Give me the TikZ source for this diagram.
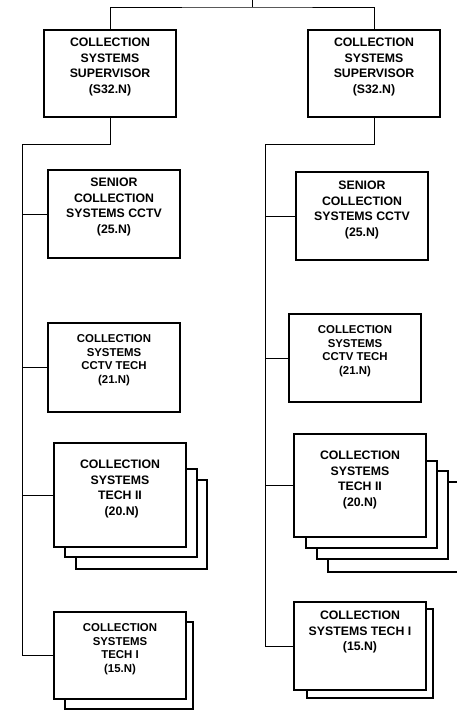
\documentclass[tikz,border=0pt]{standalone}
\usepackage{fontspec}
\setmainfont{Liberation Sans}
\tikzset{
 box/.style={draw, line width=1.3pt, fill=white, rectangle, inner sep=0pt},
 conn/.style={line width=0.9pt},
 bigtxt/.style={font=\bfseries\fontsize{12.3}{15.5}\selectfont, align=center, anchor=north, inner sep=0pt},
 smalltxt/.style={font=\bfseries\fontsize{11.4}{13.7}\selectfont, align=center, anchor=north, inner sep=0pt},
}
\newcommand\obox[5]{%
 \node[box, minimum width={#4-#2}, minimum height={#5-#3}] (#1) at ({(#2+#4)/2},{(#3+#5)/2}) {};}
\newcommand\shbox[4]{\draw[box] (#1,#2) rectangle (#3,#4);}
\begin{document}
\begin{tikzpicture}[x=1pt,y=-1pt]
\useasboundingbox (0,0) rectangle (457,711);
\clip (0,0) rectangle (457,711);
% supervisors
\obox{supL}{44}{30}{176}{117}
\obox{supR}{308}{30}{440}{117}
\node[bigtxt] (tsupL) at ([yshift=-8.6pt]supL.north) {COLLECTION\\SYSTEMS\\SUPERVISOR\\(S32.N)};
\node[bigtxt] (tsupR) at ([yshift=-8.6pt]supR.north) {COLLECTION\\SYSTEMS\\SUPERVISOR\\(S32.N)};
% left column
\obox{senL}{48}{170}{180}{258}
\node[bigtxt] (tsenL) at ([yshift=-8.6pt]senL.north) {SENIOR\\COLLECTION\\SYSTEMS CCTV\\(25.N)};
\obox{ccL}{48}{323}{180}{412}
\node[smalltxt] (tccL) at ([yshift=-12pt]ccL.north) {COLLECTION\\SYSTEMS\\CCTV TECH\\(21.N)};
\shbox{76}{480}{207}{569}
\shbox{65}{469}{197}{557}
\obox{t2L}{54}{443}{186}{547}
\node[bigtxt] (tt2L) at ([yshift=-17.6pt]t2L.north) {COLLECTION\\SYSTEMS\\TECH II\\\ (20.N)};
\shbox{65}{622}{193}{709}
\obox{t1L}{54}{612}{186}{699}
\node[smalltxt] (tt1L) at ([yshift=-12pt]t1L.north) {COLLECTION\\SYSTEMS\\TECH I\\(15.N)};
% right column
\obox{senR}{296}{172}{428}{260}
\node[bigtxt] (tsenR) at ([yshift=-9.6pt]senR.north) {SENIOR\\COLLECTION\\SYSTEMS CCTV\\(25.N)};
\obox{ccR}{289}{314}{421}{402}
\node[smalltxt] (tccR) at ([yshift=-12pt]ccR.north) {COLLECTION\\SYSTEMS\\CCTV TECH\\(21.N)};
\shbox{328}{482}{475}{572}
\shbox{317}{471}{448}{559}
\shbox{306}{461}{437}{548}
\obox{t2R}{294}{434}{426}{537}
\node[bigtxt] (tt2R) at ([yshift=-17.6pt]t2R.north) {COLLECTION\\SYSTEMS\\TECH II\\(20.N)};
\shbox{307}{609}{433}{698}
\obox{t1R}{294}{602}{426}{690}
\node[bigtxt] (tt1R) at ([yshift=-9.6pt]t1R.north) {COLLECTION\\SYSTEMS TECH I\\(15.N)};
% connectors
\coordinate (top) at (252,0);
\coordinate (bus) at (252,7);
\coordinate (jL) at (22,144);
\coordinate (jR) at (265,144);
\draw[conn] (top) -- (bus);
\draw[conn] (supL.north) |- (bus) -| (supR.north);
\draw[conn] (supL.south) |- (jL) |- (t1L.west);
\draw[conn] (supR.south) |- (jR) |- (t1R.west);
\foreach \n in {senL,ccL,t2L}{\draw[conn] (\n.west) -- (\n.west -| jL);}
\foreach \n in {senR,ccR,t2R}{\draw[conn] (\n.west) -- (\n.west -| jR);}
\end{tikzpicture}
\end{document}
